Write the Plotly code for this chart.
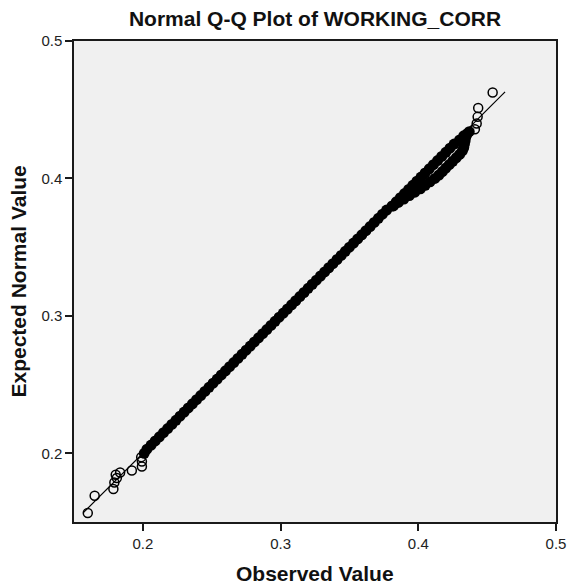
import plotly.graph_objects as go

# ---- data (Observed value, Expected normal value) ----
ref_obs = [0.157, 0.463]
ref_exp = [0.157, 0.463]

tail_obs = [0.160, 0.165, 0.1786, 0.1793, 0.1811, 0.1803, 0.1835, 0.192, 0.1993, 0.1993, 0.1988,
            0.4411, 0.4424, 0.4431, 0.4435, 0.454]
tail_exp = [0.1565, 0.1691, 0.174, 0.1788, 0.182, 0.1844, 0.186, 0.1875, 0.1904, 0.194, 0.1972,
            0.4358, 0.440, 0.4448, 0.4513, 0.4625]

band_exp = [0.200, 0.203, 0.206, 0.209, 0.212, 0.215, 0.218, 0.221, 0.224, 0.227, 0.230, 0.233,
            0.236, 0.239, 0.242, 0.245, 0.248, 0.251, 0.254, 0.257, 0.260, 0.263, 0.266, 0.269,
            0.272, 0.275, 0.278, 0.281, 0.284, 0.287, 0.290, 0.293, 0.296, 0.299, 0.302, 0.305,
            0.308, 0.311, 0.314, 0.317, 0.320, 0.323, 0.326, 0.329, 0.332, 0.335, 0.338, 0.341,
            0.344, 0.347, 0.350, 0.353, 0.356, 0.359, 0.362, 0.365, 0.368, 0.371, 0.374, 0.377,
            0.380, 0.383, 0.386, 0.389, 0.392, 0.395, 0.398, 0.401, 0.404, 0.407, 0.410, 0.413,
            0.416, 0.419, 0.422, 0.425, 0.428, 0.431, 0.434]
band_obs = [0.201, 0.203, 0.206, 0.209, 0.212, 0.215, 0.218, 0.221, 0.224, 0.227, 0.230, 0.233,
            0.236, 0.239, 0.242, 0.245, 0.248, 0.251, 0.254, 0.257, 0.260, 0.263, 0.266, 0.269,
            0.272, 0.275, 0.278, 0.281, 0.284, 0.287, 0.290, 0.293, 0.296, 0.299, 0.302, 0.305,
            0.308, 0.311, 0.314, 0.317, 0.320, 0.323, 0.326, 0.329, 0.332, 0.335, 0.338, 0.341,
            0.344, 0.347, 0.350, 0.353, 0.356, 0.359, 0.362, 0.365, 0.368, 0.371, 0.374, 0.377,
            0.381, 0.384, 0.387, 0.390, 0.393, 0.396, 0.399, 0.402, 0.405, 0.408, 0.411, 0.414,
            0.417, 0.420, 0.423, 0.426, 0.430, 0.433, 0.437]

lobe_exp = [0.380, 0.3825, 0.385, 0.3875, 0.390, 0.3925, 0.395, 0.3975, 0.400, 0.4025, 0.405,
            0.4075, 0.410, 0.4125, 0.415, 0.4175, 0.420, 0.4225, 0.425, 0.4275, 0.430, 0.4325]
lobe_obs = [0.382, 0.3855, 0.3895, 0.3935, 0.3975, 0.4015, 0.405, 0.4085, 0.412, 0.415, 0.4175,
            0.420, 0.4225, 0.425, 0.4275, 0.430, 0.432, 0.433, 0.4335, 0.434, 0.4345, 0.4355]

x_ticks = [0.2, 0.3, 0.4, 0.5]
y_ticks = [0.2, 0.3, 0.4, 0.5]
x_tick_text = ["0.2", "0.3", "0.4", "0.5"]
y_tick_text = ["0.2", "0.3", "0.4", "0.5"]

FONT = "Liberation Sans, Arial, sans-serif"

fig = go.Figure()
fig.add_trace(go.Scatter(x=band_obs, y=band_exp, mode="markers",
                         marker=dict(symbol="circle", size=11, color="black", line=dict(width=0)),
                         hoverinfo="skip"))
fig.add_trace(go.Scatter(x=lobe_obs, y=lobe_exp, mode="markers",
                         marker=dict(symbol="circle", size=11, color="black", line=dict(width=0)),
                         hoverinfo="skip"))
fig.add_trace(go.Scatter(x=tail_obs, y=tail_exp, mode="markers",
                         marker=dict(symbol="circle-open", size=9, color="black", line=dict(width=1.5)),
                         hoverinfo="skip"))
fig.add_trace(go.Scatter(x=ref_obs, y=ref_exp, mode="lines",
                         line=dict(color="black", width=1.2), hoverinfo="skip"))

axis_common = dict(
    showgrid=False, zeroline=False, showline=True, linecolor="#1a1a1a", linewidth=1.5,
    mirror=True, ticks="outside", ticklen=7, tickwidth=2, tickcolor="#1a1a1a",
    tickfont=dict(family=FONT, size=15, color="#222222"), automargin=False,
)

fig.update_layout(
    width=567, height=587,
    margin=dict(l=74, r=11, t=41, b=65),
    paper_bgcolor="white", plot_bgcolor="#f0f0f0",
    showlegend=False,
    title=dict(text="<b>Normal Q-Q Plot of WORKING_CORR</b>", x=0.5, xref="paper",
               y=1 - 19 / 587, yanchor="middle",
               font=dict(family=FONT, size=21, color="#111111")),
    xaxis=dict(range=[0.15, 0.5], tickvals=x_ticks, ticktext=x_tick_text, **axis_common),
    yaxis=dict(range=[0.15, 0.5], tickvals=y_ticks, ticktext=y_tick_text, **axis_common),
    annotations=[
        dict(text="<b>Observed Value</b>", xref="paper", yref="paper", x=0.5,
             y=-(573 - 522) / 481.0, xanchor="center", yanchor="middle", showarrow=False,
             font=dict(family=FONT, size=21, color="#111111")),
        dict(text="<b>Expected Normal Value</b>", xref="paper", yref="paper",
             x=-(74 - 18) / 482.0, y=0.5, xanchor="center", yanchor="middle", showarrow=False,
             textangle=-90, font=dict(family=FONT, size=21, color="#111111")),
    ],
)

fig.write_html("out.html")
